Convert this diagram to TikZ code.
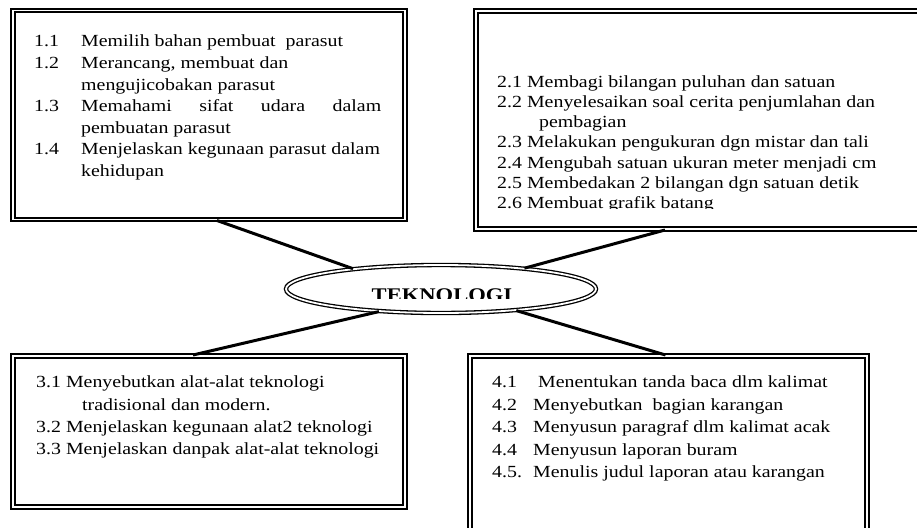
\documentclass[tikz,border=0pt]{standalone}
\usepackage{fontspec}
\setmainfont{Liberation Serif}[FakeStretch=1.17]
\usetikzlibrary{positioning,shapes}
\tikzstyle{F} = [rectangle,
			draw, line width=2pt,
			double, double distance=1.5pt,
			inner sep=0pt]
\tikzstyle{E} = [ellipse,
			draw, line width=1.3pt,
			double, double distance=1.8pt,
			minimum width=310pt, minimum height=48pt,
			inner sep=0pt]
\tikzstyle{T} = [anchor=north west, inner sep=0pt,
			align=left]
\tikzstyle{L} = [draw, line width=3pt]

\begin{document}
\begin{tikzpicture}[x=1pt, y=-1pt]

\clip (0,0) rectangle (917,527);
\fill[white] (0,0) rectangle (917,527);

\node [F, minimum width=392pt, minimum height=209pt] at (209,115)
(para)
	{};

\node [F, minimum width=454pt, minimum height=218pt] at (703,120)
(hitung)
	{};

\node [F, minimum width=392pt, minimum height=151pt] at (209,431.5)
(alat)
	{};

\node [F, minimum width=397pt, minimum height=184pt] at (668.5,448)
(bahasa)
	{};

\node [E] at (441,289)
(tek)
	{};

\begin{scope}
\clip (300,270) rectangle (580,298);
\node [anchor=base, inner sep=0pt, font=\fontsize{19.3}{24}\selectfont\bfseries] at (442,301)
(tektx)
	{TEKNOLOGI};
\end{scope}

\node [T, font=\fontsize{17}{21.6}\selectfont] at ([shift={(22,22)}]para.north west)
(paratx)
	{\begin{tabular}{@{}l@{}l@{}}
	\makebox[47pt][l]{1.1} & Memilih bahan pembuat\ \ parasut\\
	\makebox[47pt][l]{1.2} & Merancang, membuat dan\\
	& mengujicobakan parasut\\
	\makebox[47pt][l]{1.3} & \makebox[300pt][s]{Memahami sifat udara dalam}\\
	& pembuatan parasut\\
	\makebox[47pt][l]{1.4} & Menjelaskan kegunaan parasut dalam\\
	& kehidupan
	\end{tabular}};

\begin{scope}
\clip (476,11) rectangle (917,208);
\node [T, font=\fontsize{17}{20.2}\selectfont] at ([shift={(22,63)}]hitung.north west)
(hitungtx)
	{\begin{tabular}{@{}l@{}}
	2.1 Membagi bilangan puluhan dan satuan\\
	2.2 Menyelesaikan soal cerita penjumlahan dan\\
	\hspace{42pt}pembagian\\
	2.3 Melakukan pengukuran dgn mistar dan tali\\
	2.4 Mengubah satuan ukuran meter menjadi cm\\
	2.5 Membedakan 2 bilangan dgn satuan detik\\
	2.6 Membuat grafik batang
	\end{tabular}};
\end{scope}

\node [T, font=\fontsize{17}{22.3}\selectfont] at ([shift={(24,17)}]alat.north west)
(alattx)
	{\begin{tabular}{@{}l@{}}
	3.1 Menyebutkan alat-alat teknologi\\
	\hspace{46pt}tradisional dan modern.\\
	3.2 Menjelaskan kegunaan alat2 teknologi\\
	3.3 Menjelaskan danpak alat-alat teknologi
	\end{tabular}};

\node [T, font=\fontsize{17}{22.5}\selectfont] at ([shift={(23,17)}]bahasa.north west)
(bahasatx)
	{\begin{tabular}{@{}l@{}l@{}}
	\makebox[41pt][l]{4.1} & \ Menentukan tanda baca dlm kalimat\\
	\makebox[41pt][l]{4.2} & Menyebutkan\ \ bagian karangan\\
	\makebox[41pt][l]{4.3} & Menyusun paragraf dlm kalimat acak\\
	\makebox[41pt][l]{4.4} & Menyusun laporan buram\\
	\makebox[41pt][l]{4.5.} & Menulis judul laporan atau karangan
	\end{tabular}};

\path[L] ([xshift=8pt]para.south) -- (tek.167);

\path[L] ([xshift=-38pt]hitung.south) -- (tek.14);

\path[L] (tek.200) -- ([xshift=-16pt]alat.north);

\path[L] (tek.-16) -- ([xshift=-3pt]bahasa.north);

\end{tikzpicture}
\end{document}
